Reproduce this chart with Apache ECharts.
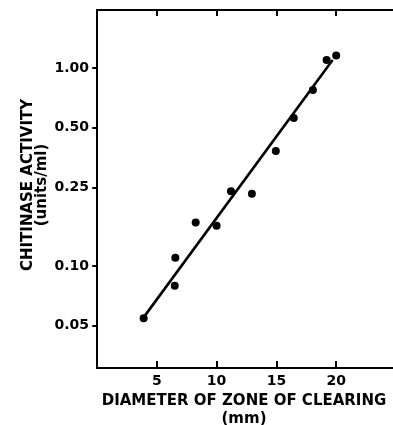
<!DOCTYPE html>
<html><head><meta charset="utf-8">
<script src="https://cdn.jsdelivr.net/npm/echarts@6/dist/echarts.min.js"></script>
<style>html,body{margin:0;padding:0;background:#fff}#c{width:393px;height:425px}</style>
</head><body><div id="c"></div>
<script>
const diameterMm = [3.9, 6.5, 6.55, 8.25, 10.0, 11.2, 12.95, 14.95, 16.45, 18.05, 19.2, 20.0];
const activity = [0.0544, 0.0795, 0.110, 0.166, 0.160, 0.239, 0.232, 0.382, 0.561, 0.777, 1.10, 1.16];
const fitLineX = [3.9, 19.7];
const fitLineY = [0.055, 1.10];
const xTicks = [5, 10, 15, 20];
const yTicks = [0.05, 0.1, 0.25, 0.5, 1.0];
const yTickLabels = ['0.05', '0.10', '0.25', '0.50', '1.00'];
const xTitle = 'DIAMETER OF ZONE OF CLEARING\n(mm)';
const yTitle = 'CHITINASE ACTIVITY\n(units/ml)';

const FONT = 'DejaVu Sans';
function yFmt(v) {
  let best = 0, bd = Infinity;
  yTicks.forEach((t, i) => { const d = Math.abs(Math.log(v) - Math.log(t)); if (d < bd) { bd = d; best = i; } });
  return yTickLabels[best];
}
const chart = echarts.init(document.getElementById('c'), null, {renderer: 'canvas'});
const lineStyle = {color: '#000', width: 2};
chart.setOption({
  animation: false,
  backgroundColor: '#fff',
  grid: {left: 97, top: 10, width: 299, height: 358, containLabel: false, outerBoundsMode: 'none'},
  xAxis: [{
    type: 'value', min: 0, max: 25, position: 'bottom',
    axisLine: {show: true, onZero: false, lineStyle},
    axisTick: {show: true, inside: true, length: 7, lineStyle, customValues: xTicks},
    axisLabel: {show: true, customValues: xTicks, margin: 6, color: '#000', fontFamily: FONT, fontWeight: 'bold', fontSize: 14},
    splitLine: {show: false},
    name: xTitle, nameLocation: 'middle', nameGap: 24, nameMoveOverlap: false,
    nameTextStyle: {color: '#000', fontFamily: FONT, fontWeight: 'bold', fontSize: 15, lineHeight: 18, padding: [0, 5, 0, 0]}
  }, {
    type: 'value', min: 0, max: 25, position: 'top',
    axisLine: {show: true, onZero: false, lineStyle},
    axisTick: {show: true, inside: true, length: 6, lineStyle, customValues: xTicks},
    axisLabel: {show: false},
    splitLine: {show: false}
  }],
  yAxis: [{
    type: 'log', logBase: 10, min: 0.0305, max: 1.97, position: 'left',
    axisLine: {show: true, onZero: false, lineStyle},
    axisTick: {show: true, inside: false, length: 4, lineStyle, customValues: yTicks},
    axisLabel: {show: true, customValues: yTicks, formatter: yFmt, margin: 8, color: '#000', fontFamily: FONT, fontWeight: 'bold', fontSize: 14},
    splitLine: {show: false},
    name: yTitle, nameLocation: 'middle', nameGap: 48, nameRotate: 90, nameMoveOverlap: false,
    nameTextStyle: {color: '#000', fontFamily: FONT, fontWeight: 'bold', fontSize: 15, lineHeight: 14, padding: [0, 0, 0, 8]}
  }, {
    type: 'log', logBase: 10, min: 0.0305, max: 1.97, position: 'right',
    axisLine: {show: false},
    axisTick: {show: true, inside: true, length: 5, lineStyle: {color: '#000', width: 1.5}, customValues: yTicks},
    axisLabel: {show: false},
    splitLine: {show: false}
  }],
  series: [{
    type: 'line',
    xAxisIndex: 0, yAxisIndex: 0,
    data: fitLineX.map((x, i) => [x, fitLineY[i]]),
    showSymbol: false, symbol: 'none',
    lineStyle: {color: '#000', width: 2.6},
    z: 2
  }, {
    type: 'scatter',
    xAxisIndex: 0, yAxisIndex: 0,
    data: diameterMm.map((x, i) => [x, activity[i]]),
    symbol: 'circle', symbolSize: 8,
    itemStyle: {color: '#000', opacity: 1},
    z: 3
  }]
});
</script></body></html>
